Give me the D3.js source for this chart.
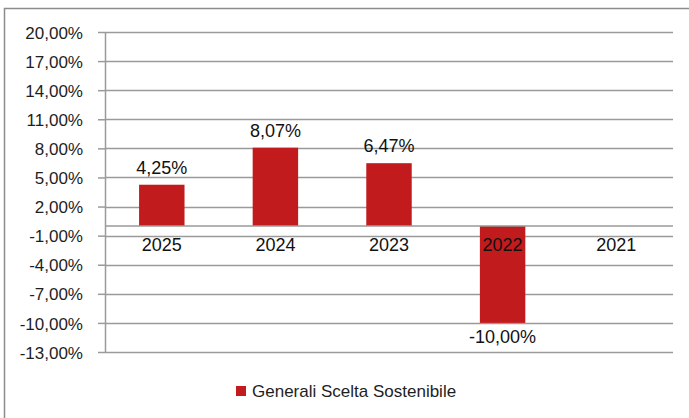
<!DOCTYPE html>
<html>
<head>
<meta charset="utf-8">
<script src="https://cdn.jsdelivr.net/npm/d3@7"></script>
<style>
  body { margin: 0; background: #fff; }
  svg { display: block; font-family: "Liberation Sans", Arial, sans-serif; }
</style>
</head>
<body>
<script>
// data
const years = ['2025', '2024', '2023', '2022', '2021']
const returns = [4.25, 8.07, 6.47, -10.00, null]
const yTicks = [20, 17, 14, 11, 8, 5, 2, -1, -4, -7, -10, -13]
const seriesName = 'Generali Scelta Sostenibile'

let width = 689
let height = 418
let plot = { left: 105, right: 673, top: 32, bottom: 352 }
let barColor = '#c11b1e'
let gridColor = '#9a9a9a'

const fmt = (v) => v.toFixed(2).replace('.', ',') + '%'

const svg = d3.select('body')
  .append('svg')
  .attr('width', width)
  .attr('height', height)

// outer chart border (cut off on right and bottom)
svg.append('path')
  .attr('d', `M4.5,${height} V8.5 H${width}`)
  .attr('fill', 'none')
  .attr('stroke', '#8c8c8c')
  .attr('stroke-width', 1.5)

var x = d3.scaleBand()
  .domain(years)
  .range([plot.left, plot.right])
  .paddingInner(0.6)
  .paddingOuter(0.3)

var y = d3.scaleLinear()
  .domain([-13, 20])
  .range([plot.bottom, plot.top])

// y axis ticks + labels
const yAxis = svg.append('g')
  .attr('transform', `translate(${plot.left},0)`)
  .call(d3.axisLeft(y)
    .tickValues(yTicks)
    .tickSize(7)
    .tickFormat(fmt))
yAxis.select('.domain').remove()
yAxis.selectAll('.tick line').attr('stroke', gridColor).attr('stroke-width', 1.5)
yAxis.selectAll('.tick text')
  .attr('x', -22)
  .attr('dy', '0.36em')
  .attr('fill', '#1e1e1e')
  .style('font-size', '17px')

// gridlines
svg.append('g')
  .selectAll('line')
  .data(yTicks)
  .join('line')
  .attr('x1', plot.left)
  .attr('x2', plot.right)
  .attr('y1', (d) => Math.round(y(d)) + 0.5)
  .attr('y2', (d) => Math.round(y(d)) + 0.5)
  .attr('stroke', gridColor)
  .attr('stroke-width', 1.5)

svg.append('line')
  .attr('x1', plot.left + 0.5).attr('x2', plot.left + 0.5)
  .attr('y1', y(20)).attr('y2', y(-13))
  .attr('stroke', gridColor)
  .attr('stroke-width', 1.5)

// bars
const barData = years.map((yr, i) => ({ year: yr, value: returns[i] })).filter((d) => d.value !== null)

svg.append('g')
  .selectAll('rect')
  .data(barData)
  .join('rect')
  .attr('x', (d) => x(d.year))
  .attr('width', x.bandwidth())
  .attr('y', (d) => y(Math.max(0, d.value)))
  .attr('height', (d) => Math.abs(y(d.value) - y(0)))
  .attr('fill', barColor)

// zero axis line
svg.append('line')
  .attr('x1', plot.left)
  .attr('x2', plot.right)
  .attr('y1', y(0))
  .attr('y2', y(0))
  .attr('stroke', gridColor)
  .attr('stroke-width', 1.5)

// category labels
svg.append('g')
  .selectAll('text')
  .data(years)
  .join('text')
  .attr('x', (d) => x(d) + x.bandwidth() / 2)
  .attr('y', y(0) + 25)
  .attr('text-anchor', 'middle')
  .attr('fill', '#111')
  .style('font-size', '18px')
  .text((d) => d)

// value labels
svg.append('g')
  .selectAll('text')
  .data(barData)
  .join('text')
  .attr('x', (d) => x(d.year) + x.bandwidth() / 2)
  .attr('y', (d) => d.value >= 0 ? y(d.value) - 11 : y(d.value) + 20)
  .attr('text-anchor', 'middle')
  .attr('fill', '#111')
  .style('font-size', '18px')
  .text((d) => fmt(d.value))

// legend
const legend = svg.append('g')
  .attr('transform', 'translate(236,386)')
legend.append('rect')
  .attr('width', 10)
  .attr('height', 10)
  .attr('fill', barColor)
legend.append('text')
  .attr('x', 16)
  .attr('y', 11)
  .attr('fill', '#1e1e1e')
  .style('font-size', '17px')
  .text(seriesName)
</script>
</body>
</html>
